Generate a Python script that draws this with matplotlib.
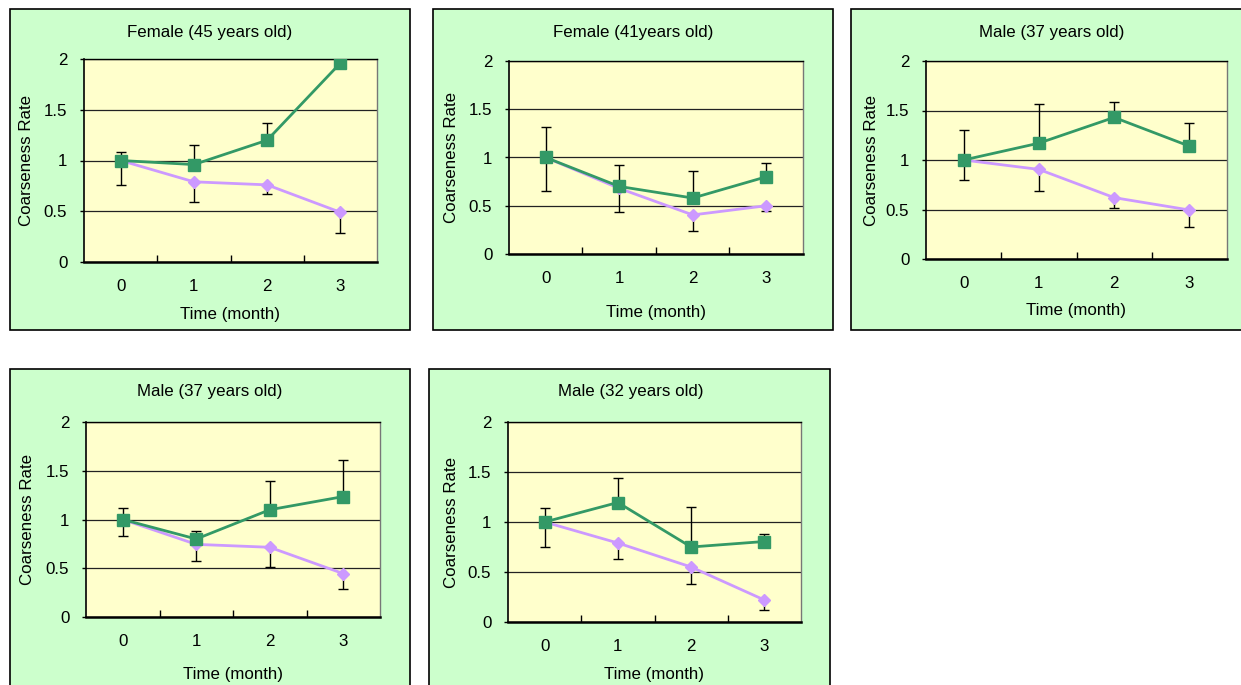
import matplotlib
matplotlib.use("Agg")
import matplotlib.pyplot as plt
from matplotlib.patches import Rectangle

plt.rcParams['font.family'] = ['Liberation Sans', 'DejaVu Sans']

# data
months = [0, 1, 2, 3]
titles = ["Female (45 years old)", "Female (41years old)", "Male (37 years old)",
          "Male (37 years old)", "Male (32 years old)"]

green_vals = [[1.0, 0.96, 1.20, 1.96],
              [1.0, 0.70, 0.58, 0.80],
              [1.0, 1.17, 1.43, 1.14],
              [1.0, 0.80, 1.10, 1.235],
              [1.0, 1.195, 0.75, 0.805]]
green_top = [[1.08, 1.15, 1.365, 2.04],
             [1.32, 0.92, 0.855, 0.945],
             [1.305, 1.565, 1.59, 1.375],
             [1.115, 0.885, 1.40, 1.61],
             [1.14, 1.44, 1.15, 0.885]]
purple_vals = [[1.0, 0.79, 0.76, 0.49],
               [1.0, 0.68, 0.405, 0.50],
               [1.0, 0.905, 0.62, 0.495],
               [1.0, 0.745, 0.715, 0.445],
               [1.0, 0.79, 0.55, 0.22]]
purple_bot = [[0.76, 0.595, 0.67, 0.29],
              [0.65, 0.435, 0.24, 0.45],
              [0.80, 0.69, 0.515, 0.325],
              [0.835, 0.575, 0.51, 0.285],
              [0.75, 0.635, 0.385, 0.125]]

# layout in pixels
W, H = 1241, 685
boxes = [(10, 9, 410, 330), (433, 9, 833, 330), (851, 9, 1270, 330),
         (10, 369, 410, 700), (429, 369, 830, 700)]
plots = [(84, 59, 377, 262), (509, 61, 803, 254), (926, 61, 1227, 259),
         (86, 422, 380, 617), (508, 422, 801, 622)]
title_pos = [(210, 32), (633, 32), (1052, 32), (210, 392), (631, 392)]
xlabel_y = [315, 312, 310, 675, 675]
ylabel_x = [27, 452, 872, 28, 452]

GREEN = '#339966'
PURPLE = '#CC99FF'
FS = 12.2

fig = plt.figure(figsize=(W / 100, H / 100), dpi=100)
fig.patch.set_facecolor('white')

def fx(p):
    return p / W

def fy(p):
    return 1 - p / H

for i in range(5):
    x0, y0, x1, y1 = boxes[i]
    fig.patches.append(Rectangle((fx(x0), fy(y1)), fx(x1 - x0), (y1 - y0) / H,
                                 transform=fig.transFigure, facecolor='#CCFFCC',
                                 edgecolor='black', lw=1.2, zorder=-5))
    px0, py0, px1, py1 = plots[i]
    ax = fig.add_axes([fx(px0), fy(py1), fx(px1 - px0), (py1 - py0) / H])
    ax.set_zorder(2)
    ax.set_facecolor('#FFFFCC')
    ax.set_xlim(-0.5, 3.5)
    ax.set_ylim(0, 2)
    ax.set_yticks([0, 0.5, 1, 1.5, 2])
    ax.set_yticklabels(['0', '0.5', '1', '1.5', '2'])
    ax.yaxis.grid(True, color='#222222', lw=0.9)
    ax.set_axisbelow(True)
    ax.set_xticks(months)
    ax.set_xticks([0.5, 1.5, 2.5], minor=True)
    ax.tick_params(axis='x', which='major', length=0, pad=12, labelsize=FS)
    ax.tick_params(axis='x', which='minor', direction='in', length=5, width=1)
    ax.tick_params(axis='y', length=3, width=1, pad=9, labelsize=FS)
    ax.spines['bottom'].set_linewidth(1.8)
    ax.spines['left'].set_linewidth(1.2)
    ax.spines['top'].set_linewidth(1.0)
    ax.spines['right'].set_color('#777777')
    ax.spines['right'].set_linewidth(1.0)

    gv = green_vals[i]
    pv = purple_vals[i]
    g_err = [[0] * 4, [t - v for t, v in zip(green_top[i], gv)]]
    p_err = [[v - b for b, v in zip(purple_bot[i], pv)], [0] * 4]
    ax.errorbar(months, pv, yerr=p_err, fmt='none', ecolor='black', elinewidth=1,
                capsize=3.5, capthick=1, zorder=2)
    ax.errorbar(months, gv, yerr=g_err, fmt='none', ecolor='black', elinewidth=1,
                capsize=3.5, capthick=1, zorder=2)
    ax.plot(months, pv, color=PURPLE, lw=2, marker='D', ms=6.5, zorder=3)
    ax.plot(months, gv, color=GREEN, lw=2, marker='s', ms=8.5, zorder=4)

    tx, ty = title_pos[i]
    fig.text(fx(tx), fy(ty), titles[i], ha='center', va='center', fontsize=FS)
    fig.text(fx((px0 + px1) / 2), fy(xlabel_y[i]), 'Time (month)', ha='center',
             va='center', fontsize=FS)
    fig.text(fx(ylabel_x[i]), fy((py0 + py1) / 2), 'Coarseness Rate', ha='center',
             va='center', rotation=90, fontsize=FS)

fig.savefig('out.png', dpi=100, facecolor='white')
